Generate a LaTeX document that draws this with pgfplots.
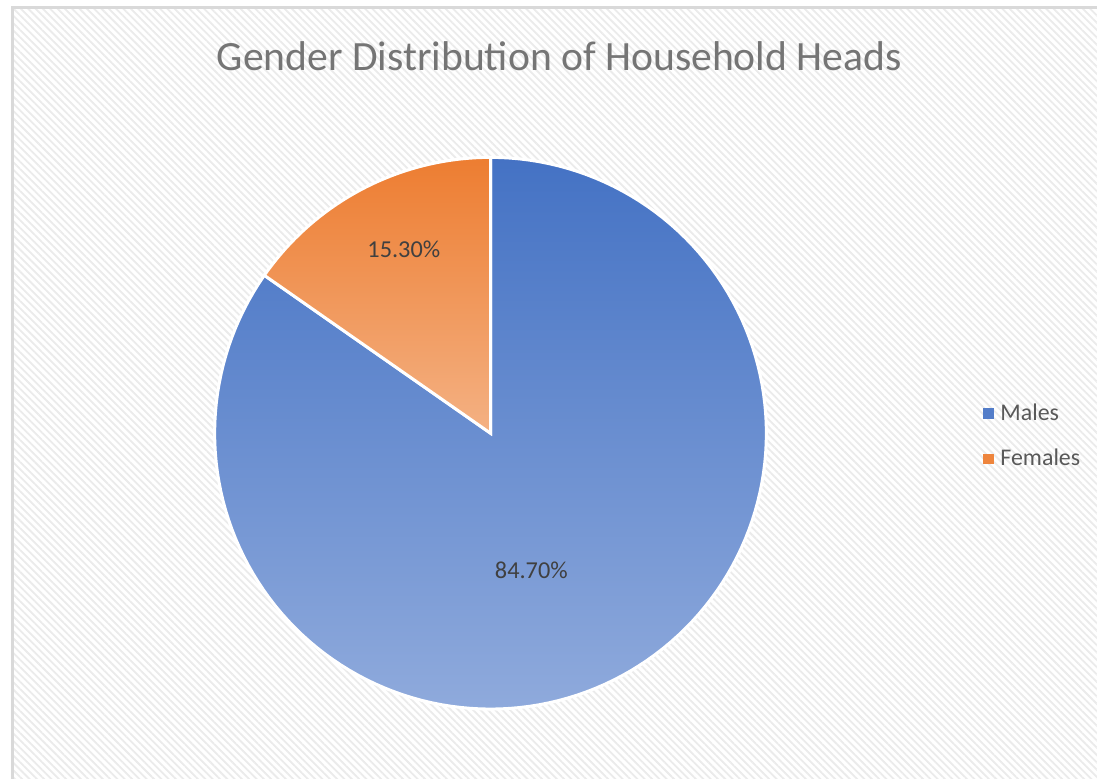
\documentclass[border=0pt]{standalone}
\usepackage{fontspec}
\setmainfont{Carlito}
\usepackage{pgfplots}
\usepackage{pgfplotstable}
\pgfplotsset{compat=1.18}
\usetikzlibrary{patterns.meta}
\definecolor{mblue}{HTML}{4472C4}
\definecolor{mbluelt}{HTML}{8FAADC}
\definecolor{forange}{HTML}{ED7D31}
\definecolor{forangelt}{HTML}{F4B183}
\definecolor{titlegray}{HTML}{757575}
\definecolor{labgray}{HTML}{404040}
\definecolor{leggray}{HTML}{595959}
\colorlet{mleg}{mblue!80!mbluelt}
\colorlet{fleg}{forange!85!forangelt}

\pgfplotstableread{
label value
Males 84.7
Females 15.3
}\sharetable

\begin{document}
\pgfplotstablegetelem{0}{value}\of\sharetable
\pgfmathsetmacro\angM{3.6*\pgfplotsretval}
\begin{tikzpicture}
\begin{axis}[
    width=548.5pt, height=391pt,
    scale only axis,
    xmin=0, xmax=1097, ymin=0, ymax=782,
    y dir=reverse,
    hide axis,
    clip=true,
    legend style={draw=none, fill=none, at={(axis cs:983,438)}, anchor=west,
        font=\fontsize{12}{14}\selectfont\color{leggray}, row sep=9pt,
        column sep=1.5pt, inner xsep=0pt, legend cell align=left,
        nodes={inner xsep=2pt}},
]
% background panel
\fill[white] (axis cs:0,0) rectangle (axis cs:1097,782);
\path[pattern={Lines[angle=-45, distance=2.6pt, line width=0.9pt]}, pattern color=black!8]
    (axis cs:8,8) rectangle (axis cs:1120,800);
\draw[black!15, line width=1.5pt] (axis cs:1120,8) -- (axis cs:8,8) -- (axis cs:8,800);

% legend
\addlegendimage{only marks, color=mleg, mark=square*, mark size=2.4pt, mark options={draw=mleg, fill=mleg}}
\addlegendentry{Males}
\addlegendimage{only marks, color=fleg, mark=square*, mark size=2.4pt, mark options={draw=fleg, fill=fleg}}
\addlegendentry{Females}

% slices, angles from the table values (clockwise from 12 o'clock)
\addplot[forget plot, draw=white, line width=1.5pt, top color=mblue, bottom color=mbluelt,
    domain=0:\angM, samples=150, variable=\t]
    ({488+277*sin(\t)}, {435-277*cos(\t)}) -- (axis cs:488,435) -- cycle;
\addplot[forget plot, draw=white, line width=1.5pt, top color=forange, bottom color=forangelt,
    domain=\angM:360, samples=40, variable=\t]
    ({488+277*sin(\t)}, {435-277*cos(\t)}) -- (axis cs:488,435) -- cycle;

\node[text=labgray, font=\fontsize{12.2}{14}\selectfont] at (axis cs:529,573) {84.70\%};
\node[text=labgray, font=\fontsize{12.2}{14}\selectfont] at (axis cs:401,250) {15.30\%};

\node[text=titlegray, font=\fontsize{20.9}{25}\selectfont] at (axis cs:557,56)
    {Gender Distribution of Household Heads};

\coordinate (BL) at (rel axis cs:0,0);
\coordinate (TR) at (rel axis cs:1,1);
\end{axis}
\pgfresetboundingbox
\path (BL) rectangle (TR);
\end{tikzpicture}
\end{document}
